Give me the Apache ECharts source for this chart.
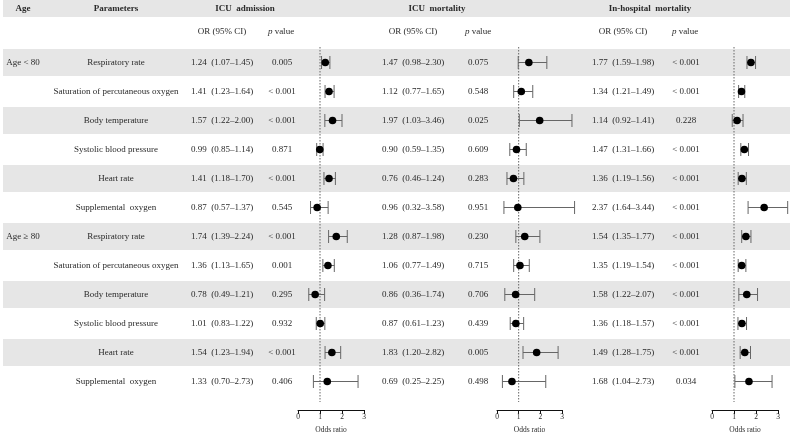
<!DOCTYPE html>
<html><head><meta charset="utf-8">
<script src="https://cdn.jsdelivr.net/npm/echarts@6/dist/echarts.min.js"></script>
<style>html,body{margin:0;padding:0;background:#fff}#c{width:793px;height:433px}</style>
</head><body><div id="c"></div>
<script>
// ---- data ----
const ageLabels = ['Age < 80', '', '', '', '', '', 'Age \u2265 80', '', '', '', '', ''];
const paramNames = ['Respiratory rate', 'Saturation of percutaneous oxygen', 'Body temperature',
  'Systolic blood pressure', 'Heart rate', 'Supplemental  oxygen'];
const rowParams = paramNames.concat(paramNames);
const rowIds = rowParams.map((p, i) => String(i));

const admOR = [1.24, 1.41, 1.57, 0.99, 1.41, 0.87, 1.74, 1.36, 0.78, 1.01, 1.54, 1.33];
const admLo = [1.07, 1.23, 1.22, 0.85, 1.18, 0.57, 1.39, 1.13, 0.49, 0.83, 1.23, 0.70];
const admHi = [1.45, 1.64, 2.00, 1.14, 1.70, 1.37, 2.24, 1.65, 1.21, 1.22, 1.94, 2.73];
const admP = ['0.005', '< 0.001', '< 0.001', '0.871', '< 0.001', '0.545', '< 0.001', '0.001', '0.295', '0.932', '< 0.001', '0.406'];

const mortOR = [1.47, 1.12, 1.97, 0.90, 0.76, 0.96, 1.28, 1.06, 0.86, 0.87, 1.83, 0.69];
const mortLo = [0.98, 0.77, 1.03, 0.59, 0.46, 0.32, 0.87, 0.77, 0.36, 0.61, 1.20, 0.25];
const mortHi = [2.30, 1.65, 3.46, 1.35, 1.24, 3.58, 1.98, 1.49, 1.74, 1.23, 2.82, 2.25];
const mortP = ['0.075', '0.548', '0.025', '0.609', '0.283', '0.951', '0.230', '0.715', '0.706', '0.439', '0.005', '0.498'];

const hospOR = [1.77, 1.34, 1.14, 1.47, 1.36, 2.37, 1.54, 1.35, 1.58, 1.36, 1.49, 1.68];
const hospLo = [1.59, 1.21, 0.92, 1.31, 1.19, 1.64, 1.35, 1.19, 1.22, 1.18, 1.28, 1.04];
const hospHi = [1.98, 1.49, 1.41, 1.66, 1.56, 3.44, 1.77, 1.54, 2.07, 1.57, 1.75, 2.73];
const hospP = ['< 0.001', '< 0.001', '0.228', '< 0.001', '< 0.001', '< 0.001', '< 0.001', '< 0.001', '< 0.001', '< 0.001', '< 0.001', '0.034'];

const oddsTicks = [0, 1, 2, 3];

// ---- build ----
const FONT = "'Liberation Serif','Times New Roman',serif";
const TXT = '#2a2a2a';
const BAND = '#e6e6e6';
const ciText = (o, l, h) => o.map((v, i) => v.toFixed(2) + '  (' + l[i].toFixed(2) + '\u2013' + h[i].toFixed(2) + ')');

const chart = echarts.init(document.getElementById('c'), null, {renderer: 'canvas'});

const GRID_TOP = 48, ROW_H = 29, N = rowIds.length;
const mkGrid = (left, width) => ({left: left, width: width, top: GRID_TOP, height: ROW_H * N,
  containLabel: false, outerBoundsMode: 'none'});
const grids = [mkGrid(0, 793), mkGrid(298, 66), mkGrid(497, 65), mkGrid(712, 66)];
const xAxes = [{gridIndex: 0, type: 'value', min: 0, max: 793, show: false}];
const yAxes = [];
for (let g = 0; g < 4; g++) {
  yAxes.push({gridIndex: g, type: 'category', data: rowIds, inverse: true, show: false});
}
for (let g = 1; g < 4; g++) {
  xAxes.push({
    gridIndex: g, type: 'value', min: oddsTicks[0], max: oddsTicks[oddsTicks.length - 1], interval: 1,
    offset: 14,
    axisLine: {show: true, lineStyle: {color: '#111', width: 1}},
    axisTick: {show: true, length: 4, lineStyle: {color: '#111', width: 1}},
    axisLabel: {fontSize: 7.5, margin: 3, color: TXT, fontFamily: FONT},
    splitLine: {show: false},
    name: 'Odds ratio', nameLocation: 'middle', nameGap: 13,
    nameTextStyle: {fontSize: 7.5, color: TXT, fontFamily: FONT}
  });
}

const series = [];
// bands
series.push({
  type: 'custom', xAxisIndex: 0, yAxisIndex: 0, z: 0, silent: true,
  data: rowIds.map((r, i) => [0, i]).filter(d => d[1] % 2 === 0),
  encode: {x: 0, y: 1},
  renderItem: (params, api) => {
    const a = api.coord([3, api.value(1)]);
    const b = api.coord([790, api.value(1)]);
    return {type: 'rect', shape: {x: a[0], y: a[1] - 13.5, width: b[0] - a[0], height: 27},
      style: {fill: BAND}};
  }
});
function textCol(xc, texts, extra) {
  series.push({
    type: 'custom', xAxisIndex: 0, yAxisIndex: 0, z: 3, silent: true,
    data: texts.map((t, i) => [xc, i]),
    encode: {x: 0, y: 1},
    renderItem: (params, api) => {
      const p = api.coord([api.value(0), api.value(1)]);
      return {type: 'text', x: p[0], y: p[1],
        style: Object.assign({text: texts[params.dataIndex], fontSize: 9, fontFamily: FONT, fill: TXT,
          align: 'center', verticalAlign: 'middle'}, extra || {})};
    }
  });
}
textCol(23, ageLabels);
textCol(116, rowParams);
textCol(222, ciText(admOR, admLo, admHi));
textCol(282, admP);
textCol(413, ciText(mortOR, mortLo, mortHi));
textCol(478, mortP);
textCol(623, ciText(hospOR, hospLo, hospHi));
textCol(686, hospP);

function forest(g, o, l, h) {
  // reference line at OR = 1
  series.push({
    type: 'custom', xAxisIndex: g, yAxisIndex: g, z: 2, silent: true, clip: false,
    data: [[1, 0]], encode: {x: 0, y: 1},
    renderItem: (params, api) => {
      const p = api.coord([api.value(0), 0]);
      const cs = params.coordSys;
      return {type: 'line', shape: {x1: p[0], y1: cs.y - 1, x2: p[0], y2: cs.y + cs.height + 6},
        style: {stroke: '#666', lineWidth: 1, lineDash: [1.5, 1.5]}};
    }
  });
  series.push({
    type: 'custom', xAxisIndex: g, yAxisIndex: g, z: 4, silent: true, clip: false,
    data: o.map((v, i) => [v, l[i], h[i], i]),
    encode: {x: [0, 1, 2], y: 3},
    renderItem: (params, api) => {
      const row = api.value(3);
      const c = api.coord([api.value(0), row]);
      const a = api.coord([api.value(1), row]);
      const b = api.coord([api.value(2), row]);
      const cap = 6.5;
      const lineStyle = {stroke: '#666', lineWidth: 1};
      return {type: 'group', children: [
        {type: 'line', shape: {x1: a[0], y1: a[1], x2: b[0], y2: b[1]}, style: lineStyle},
        {type: 'line', shape: {x1: a[0], y1: a[1] - cap, x2: a[0], y2: a[1] + cap}, style: lineStyle},
        {type: 'line', shape: {x1: b[0], y1: b[1] - cap, x2: b[0], y2: b[1] + cap}, style: lineStyle},
        {type: 'circle', shape: {cx: c[0], cy: c[1], r: 3.8}, style: {fill: '#000'}}
      ]};
    }
  });
}
forest(1, admOR, admLo, admHi);
forest(2, mortOR, mortLo, mortHi);
forest(3, hospOR, hospLo, hospHi);

const headBold = {fontSize: 9, fontWeight: 'bold', fontFamily: FONT, fill: TXT, align: 'center', verticalAlign: 'middle'};
const sub = {fontSize: 9, fontFamily: FONT, fill: TXT, align: 'center', verticalAlign: 'middle'};
const pval = (x) => ({type: 'text', x: x, y: 32, style: Object.assign({}, sub, {
  text: '{i|p} value', rich: {i: {fontStyle: 'italic', fontSize: 9, fontFamily: FONT, fill: TXT}}})});
const graphic = [
  {type: 'rect', shape: {x: 3, y: 0, width: 787, height: 17}, style: {fill: BAND}, z: -1},
  {type: 'text', x: 23, y: 8.5, style: Object.assign({text: 'Age'}, headBold)},
  {type: 'text', x: 116, y: 8.5, style: Object.assign({text: 'Parameters'}, headBold)},
  {type: 'text', x: 245, y: 8.5, style: Object.assign({text: 'ICU  admission'}, headBold)},
  {type: 'text', x: 437, y: 8.5, style: Object.assign({text: 'ICU  mortality'}, headBold)},
  {type: 'text', x: 650, y: 8.5, style: Object.assign({text: 'In-hospital  mortality'}, headBold)},
  {type: 'text', x: 222, y: 32, style: Object.assign({text: 'OR (95% CI)'}, sub)},
  {type: 'text', x: 413, y: 32, style: Object.assign({text: 'OR (95% CI)'}, sub)},
  {type: 'text', x: 623, y: 32, style: Object.assign({text: 'OR (95% CI)'}, sub)},
  pval(281), pval(478), pval(685)
];

chart.setOption({
  animation: false,
  backgroundColor: '#fff',
  grid: grids, xAxis: xAxes, yAxis: yAxes, series: series, graphic: graphic
});
</script>
</body></html>
